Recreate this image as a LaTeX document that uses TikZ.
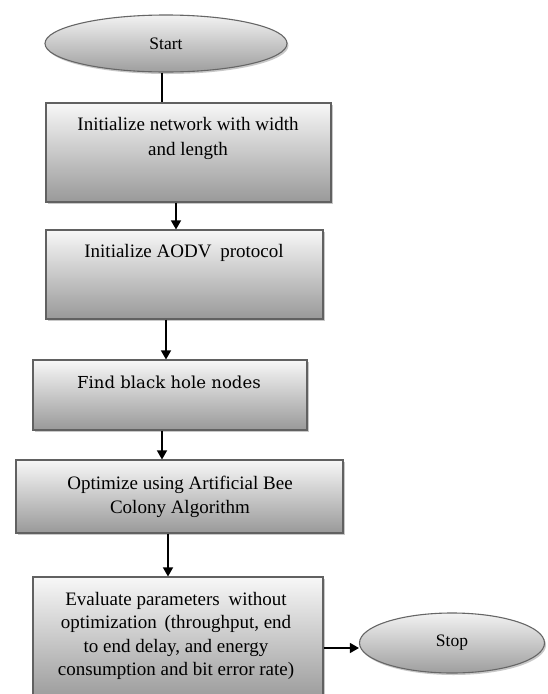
\documentclass[tikz,border=0pt]{standalone}
\usepackage{fontspec}
\setmainfont{Liberation Serif}
\newfontfamily\slabfont{DejaVu Serif}
\usetikzlibrary{shapes.geometric,arrows.meta,shadows}
\begin{document}
\begin{tikzpicture}[x=1pt,y=-1pt,
  stepbox/.style={rectangle, draw=black!62, line width=1.1pt, inner sep=0pt,
    top color=white!97!black, bottom color=black!40,
    drop shadow={shadow xshift=2pt, shadow yshift=-2pt, opacity=0.3, fill=black!70}},
  term/.style={ellipse, draw=black!60, line width=1.1pt, inner sep=0pt,
    top color=black!5, bottom color=black!38,
    font=\fontsize{17.5}{20}\selectfont,
    drop shadow={shadow xshift=1.5pt, shadow yshift=-2pt, opacity=0.3, fill=black!70}},
  lbl/.style={align=center, inner sep=0pt, font=\fontsize{19}{24.5}\selectfont},
  slab/.style={inner sep=0pt, font=\slabfont\fontsize{16.5}{20}\selectfont},
  arr/.style={draw=black, line width=1.3pt, -{Triangle[length=9pt,width=10pt]}},
  link/.style={draw=black, line width=1.3pt}]

% page
\fill[white] (0,0) rectangle (547,694);
\useasboundingbox (0,0) rectangle (547,694);

% terminals
\node[term, minimum width=242pt, minimum height=57pt] (start) at (166,43.5) {Start};
\node[term, minimum width=185pt, minimum height=60pt] (stop) at (452,643) {Stop};

% process boxes
\node[stepbox, minimum width=285pt, minimum height=99pt] (b1) at (188.5,152.5) {};
\node[lbl] (t1) at (188,138.5) {Initialize network with width\\and length};

\node[stepbox, minimum width=277pt, minimum height=89pt] (b2) at (184.5,274.5) {};
\node[lbl] (t2) at (184,253) {Initialize AODV\hspace{4pt} protocol};

\node[stepbox, minimum width=274pt, minimum height=70pt] (b3) at (170,395) {};
\node[slab] (t3) at (169,382) {Find black hole nodes};

\node[stepbox, minimum width=327pt, minimum height=73pt] (b4) at (179.5,496.5) {};
\node[lbl] (t4) at (180,497) {Optimize using Artificial Bee\\Colony Algorithm};

\node[stepbox, minimum width=290pt, minimum height=125pt] (b5) at (178,639.5) {};
\node[lbl, font=\fontsize{19}{23.5}\selectfont] (t5) at (176,636)
  {Evaluate parameters\hspace{4pt} without\\optimization\hspace{3pt} (throughput, end\\to end delay, and energy\\consumption and bit error rate)};

% connector columns
\coordinate (x0) at (162,0);
\coordinate (x1) at (176,0);
\coordinate (x2) at (166,0);
\coordinate (x3) at (162,0);
\coordinate (x4) at (168,0);
\coordinate (y5) at (0,648);

% connectors
\draw[link] (start.south -| x0) -- (b1.north -| x0);
\draw[arr] (b1.south -| x1) -- (b2.north -| x1);
\draw[arr] (b2.south -| x2) -- (b3.north -| x2);
\draw[arr] (b3.south -| x3) -- (b4.north -| x3);
\draw[arr] (b4.south -| x4) -- (b5.north -| x4);
\draw[arr] (b5.east |- y5) -- (stop.west |- y5);
\end{tikzpicture}
\end{document}
